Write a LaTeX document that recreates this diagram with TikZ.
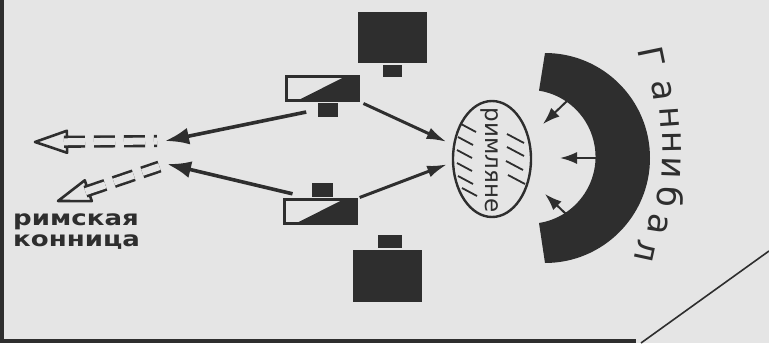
\documentclass[tikz,border=0pt]{standalone}
\usepackage{fontspec}
\newfontfamily\mapfont{DejaVu Sans}
\usetikzlibrary{arrows.meta,calc,positioning,shapes.geometric}

\begin{document}
\begin{tikzpicture}[x=1pt,y=-1pt,line width=2pt]
  \definecolor{mapink}{RGB}{46,46,46}
  \definecolor{mappaper}{RGB}{229,229,229}
  \tikzset{troop/.style={fill=mapink,inner sep=0pt,minimum width=69pt,minimum height=51pt},
    cavunit/.style={draw=mapink,fill=mappaper,line width=2.6pt,inner sep=0pt,minimum width=72pt,minimum height=24pt},
    flag/.style={fill=mapink,inner sep=0pt,minimum width=20pt,minimum height=14pt},
    push/.style={mapink,line width=3.6pt,-{Latex[length=24pt,width=17pt]}},
    hit/.style={mapink,line width=3pt,-{Latex[length=20pt,width=12pt]}},
    squeeze/.style={mapink,line width=2pt,-{Latex[length=17pt,width=12pt]}},
    flee/.style={mapink,line width=2.6pt,double=mappaper,double distance=7pt,dash pattern=on 21pt off 9pt},
    fleehead/.style={draw=mapink,fill=mappaper,line width=2.6pt,line join=round},
    hatch/.style={mapink,line width=1.8pt},
    romtext/.style={mapink,font=\mapfont\fontsize{23}{23}\selectfont,inner sep=0pt},
    hanlabel/.style={mapink,font=\mapfont\fontsize{34}{34}\selectfont,inner sep=0pt},
    cavlabel/.style={mapink,font=\mapfont\bfseries\fontsize{21}{21}\selectfont,align=left,inner sep=0pt,xscale=1.24}}
  \useasboundingbox (0,0) rectangle (769,343);
  \fill[mappaper] (0,0) rectangle (769,343);
  % page edges
  \draw[mapink,line width=4pt] (2,0) -- (2,343);
  \draw[mapink,line width=4pt] (0,341) -- (636,341);
  \draw[mapink,line width=1.6pt] (641,343) -- (769,251);
  % roman army
  \node[troop] (blockN) at (392.5,37.5) {};
  \node[troop,minimum height=52pt] (blockS) at (387.5,276) {};
  \node[flag,minimum width=19pt,minimum height=12pt,below=0pt of blockN] (flagBN) {};
  \node[flag,minimum width=24pt,minimum height=13pt,above=0pt of blockS,xshift=2.5pt] (flagBS) {};
  \node[cavunit] (unitN) at (322.5,88.5) {};
  \node[cavunit] (unitS) at (320.5,211.5) {};
  \fill[mapink] ($(unitN.south west)+(10,0)$) -- ($(unitN.north east)+(-12,0)$) -- (unitN.north east) -- (unitN.south east) -- cycle;
  \fill[mapink] ($(unitS.south west)+(10,0)$) -- ($(unitS.north east)+(-12,0)$) -- (unitS.north east) -- (unitS.south east) -- cycle;
  \node[flag,below=0pt of unitN,xshift=5.5pt] (flagN) {};
  \node[flag,minimum width=21pt,above=0pt of unitS,xshift=2pt] (flagS) {};
  \node[ellipse,draw=mapink,line width=2.4pt,minimum width=78pt,minimum height=116pt,inner sep=0pt] (romans) at (492,159) {};
  \node[romtext,rotate=-90] (romansName) at (490,160) {римляне};
  \foreach \hx/\hy in {461/124,458/137,457/150,457/163,458/176,462/188}
    \draw[hatch] (\hx,\hy) -- ++(15,8);
  \foreach \hx/\hy in {507/134,507/147,506/161,508/175}
    \draw[hatch] (\hx,\hy) -- ++(17,9);
  % hannibal
  \fill[mapink] (545,53) arc[start angle=-90,end angle=90,radius=105] -- (539,223) arc[start angle=81,end angle=-81,radius=67] -- cycle;
  \foreach \ch/\ang [count=\k] in {Г/-29,а/-18.4,н/-10,н/-2.7,и/4.8,б/13.4,а/21.8,л/30.6}
    \node[hanlabel,anchor=base,rotate=-90-0.4*(\ang)] (hannibal\k) at ($(473,152)+(\ang:190)$) {\ch};
  \coordinate (bandTop) at (567,101);
  \coordinate (bandMid) at (598,158);
  \coordinate (bandBot) at (566,214);
  \coordinate (aimTop) at (543,124);
  \coordinate (aimMid) at (560,158);
  \coordinate (aimBot) at (545,194);
  \draw[squeeze] (bandTop) -- (aimTop);
  \draw[squeeze] (bandMid) -- (aimMid);
  \draw[squeeze] (bandBot) -- (aimBot);
  % attacks
  \draw[hit,shorten <=4pt,shorten >=7pt] (unitN.south east) -- (romans.160);
  \draw[hit,shorten <=2pt,shorten >=5pt] (unitS.north east) -- (romans.185);
  \coordinate (cavN) at (165,141);
  \coordinate (cavS) at (167,164);
  \draw[push,shorten <=11pt] (flagN.west) -- (cavN);
  \draw[push,shorten <=19pt] (flagS.south west) -- (cavS);
  % flight of the cavalry
  \coordinate (fleeN) at (35,142);
  \coordinate (fleeS) at (58,201);
  \coordinate (fleeNback) at ($(fleeN)!32pt!(cavN)$);
  \coordinate (fleeSback) at ($(fleeS)!32pt!(cavS)$);
  \filldraw[fleehead] (fleeN) -- ($(fleeNback)!11pt!90:(cavN)$) -- ($(fleeNback)!11pt!-90:(cavN)$) -- cycle;
  \filldraw[fleehead] (fleeS) -- ($(fleeSback)!11pt!90:(cavS)$) -- ($(fleeSback)!11pt!-90:(cavS)$) -- cycle;
  \draw[flee] ($(fleeNback)!-3pt!(cavN)$) -- ($(cavN)!8pt!(fleeN)$);
  \draw[flee] ($(fleeSback)!-3pt!(cavS)$) -- ($(cavS)!8pt!(fleeS)$);
  \node[cavlabel,anchor=north west] (cavalryName) at (12,213) {римская\\конница};
\end{tikzpicture}
\end{document}
